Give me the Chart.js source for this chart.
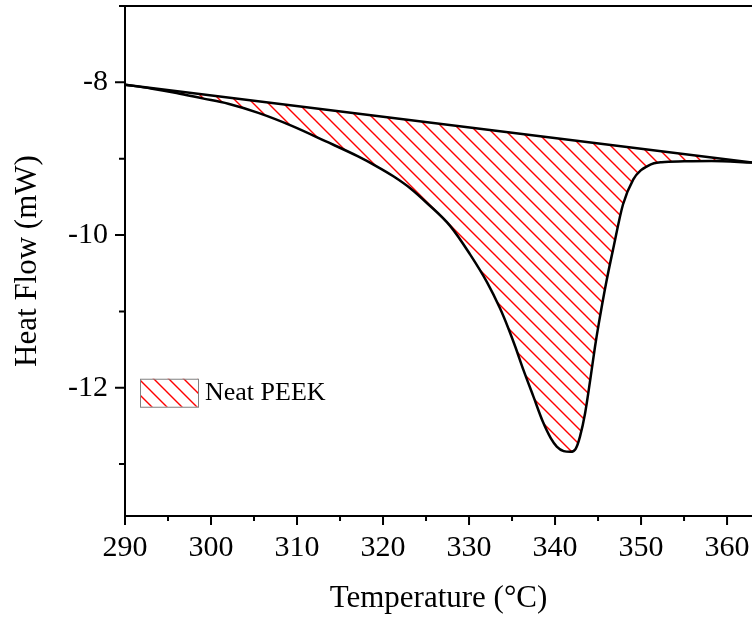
<!DOCTYPE html>
<html>
<head>
<meta charset="utf-8">
<script src="https://cdn.jsdelivr.net/npm/chart.js@4/dist/chart.umd.min.js"></script>
<style>
  body { margin: 0; background: #fff; }
  #wrap { width: 752px; height: 621px; }
</style>
</head>
<body>
<div id="wrap"><canvas id="myChart"></canvas></div>
<script>
'use strict';

// DSC curve
let temps = [290, 293, 296, 299, 302, 305.5, 309.4, 313.3, 317.1, 319.1, 321.2, 323.2, 325.1, 327.8,
  330.1, 332.1, 333.6, 334.6, 335.4, 336.3, 337.5, 338.6, 339.5, 340.2, 341.0, 341.8, 342.4, 342.9,
  343.5, 344.1, 344.65, 345.1, 345.9, 346.8, 347.9, 349.1, 350.0, 350.7, 351.5, 352.4, 355, 358.2, 362.9];
let heatFlow = [-8.03, -8.08, -8.14, -8.21, -8.28, -8.40, -8.57, -8.77, -8.97, -9.09, -9.23, -9.39, -9.58, -9.88,
  -10.25, -10.62, -10.96, -11.23, -11.47, -11.76, -12.12, -12.45, -12.66, -12.77, -12.83, -12.84, -12.80, -12.64,
  -12.33, -11.89, -11.46, -11.15, -10.65, -10.16, -9.60, -9.27, -9.15, -9.10, -9.06, -9.045, -9.035, -9.03, -9.05];

// straight baseline under the peak
let baseTemps = [290, 362.9];
let baseFlow = [-8.03, -9.05];

let xTicks = [290, 300, 310, 320, 330, 340, 350, 360];
let yTicks = [-8, -10, -12];
let seriesName = 'Neat PEEK';

let serif = '"Liberation Serif", "Times New Roman", serif';

// red hatch pattern
function hatch() {
  let c = document.createElement('canvas');
  let s = 15;
  c.width = s; c.height = s;
  let g = c.getContext('2d');
  g.strokeStyle = '#ff0000';
  g.lineWidth = 1.4;
  g.beginPath();
  g.moveTo(-1, -1); g.lineTo(s + 1, s + 1);
  g.moveTo(-1, s - 1); g.lineTo(1, s + 1);
  g.moveTo(s - 1, -1); g.lineTo(s + 1, 1);
  g.stroke();
  return document.getElementById('myChart').getContext('2d').createPattern(c, 'repeat');
}
let pattern = hatch();

let toPts = (xs, ys) => xs.map((x, i) => ({ x: x, y: ys[i] }));

function noPad(s) {
  s.paddingTop = 0; s.paddingBottom = 0; s.paddingLeft = 0; s.paddingRight = 0;
}

// minor + major ticks, top frame line, legend
let decor = {
  id: 'decor',
  afterDraw(chart) {
    let ctx = chart.ctx;
    let a = chart.chartArea;
    let xs = chart.scales.x, ys = chart.scales.y;
    ctx.save();
    ctx.strokeStyle = '#000';
    ctx.lineWidth = 2;
    ctx.beginPath();
    ctx.moveTo(a.left, a.top);
    ctx.lineTo(a.right, a.top);
    for (let t = 290; t <= 362; t += 5) {
      let px = xs.getPixelForValue(t);
      let len = (t % 10 === 0) ? 9 : 5;
      ctx.moveTo(px, a.bottom);
      ctx.lineTo(px, a.bottom + len);
    }
    for (let v = -13; v <= -7; v += 1) {
      let py = ys.getPixelForValue(v);
      let len = (v % 2 === 0) ? 10 : 6;
      ctx.moveTo(a.left, py);
      ctx.lineTo(a.left - len, py);
    }
    ctx.stroke();

    // legend
    let bx = a.left + 15, by = ys.getPixelForValue(-12) - 9;
    ctx.fillStyle = pattern;
    ctx.fillRect(bx, by, 58, 28);
    ctx.strokeStyle = '#808080';
    ctx.lineWidth = 1;
    ctx.strokeRect(bx + 0.5, by + 0.5, 58, 28);
    ctx.fillStyle = '#000';
    ctx.font = '26px ' + serif;
    ctx.textBaseline = 'middle';
    ctx.textAlign = 'left';
    ctx.fillText(seriesName, bx + 65, by + 14);
    ctx.restore();
  }
};

let ctx = document.getElementById('myChart').getContext('2d');
let myChart = new Chart(ctx, {
  type: 'line',
  data: {
    datasets: [{
      label: 'baseline',
      data: toPts(baseTemps, baseFlow),
      borderColor: '#000',
      borderWidth: 2.5,
      pointRadius: 0,
      fill: false
    }, {
      label: seriesName,
      data: toPts(temps, heatFlow),
      borderColor: '#000',
      borderWidth: 2.5,
      pointRadius: 0,
      cubicInterpolationMode: 'monotone',
      backgroundColor: pattern,
      fill: { target: 0 }
    }]
  },
  options: {
    responsive: true,
    maintainAspectRatio: false,
    animation: false,
    layout: { padding: { top: 6, right: 0, left: 0, bottom: 0 } },
    plugins: { legend: { display: false }, tooltip: { enabled: false } },
    scales: {
      x: {
        type: 'linear',
        min: 290,
        max: 362.9,
        afterFit(s) { s.height = 105; noPad(s); },
        afterBuildTicks(s) { s.ticks = xTicks.map(v => ({ value: v })); },
        grid: { display: false, drawTicks: false },
        border: { display: true, color: '#000', width: 2 },
        ticks: { color: '#000', padding: 14, font: { family: serif, size: 30 } },
        title: { display: true, text: 'Temperature (°C)', color: '#000', padding: { top: 3 },
          font: { family: serif, size: 31 } }
      },
      y: {
        min: -13.68,
        max: -7,
        afterFit(s) { s.width = 125; noPad(s); },
        afterBuildTicks(s) { s.ticks = yTicks.map(v => ({ value: v })); },
        grid: { display: false, drawTicks: false },
        border: { display: true, color: '#000', width: 2 },
        ticks: { color: '#000', padding: 17, font: { family: serif, size: 30 } },
        title: { display: true, text: 'Heat Flow (mW)', color: '#000', padding: { top: 9 },
          font: { family: serif, size: 31 } }
      }
    }
  },
  plugins: [decor]
});
</script>
</body>
</html>
